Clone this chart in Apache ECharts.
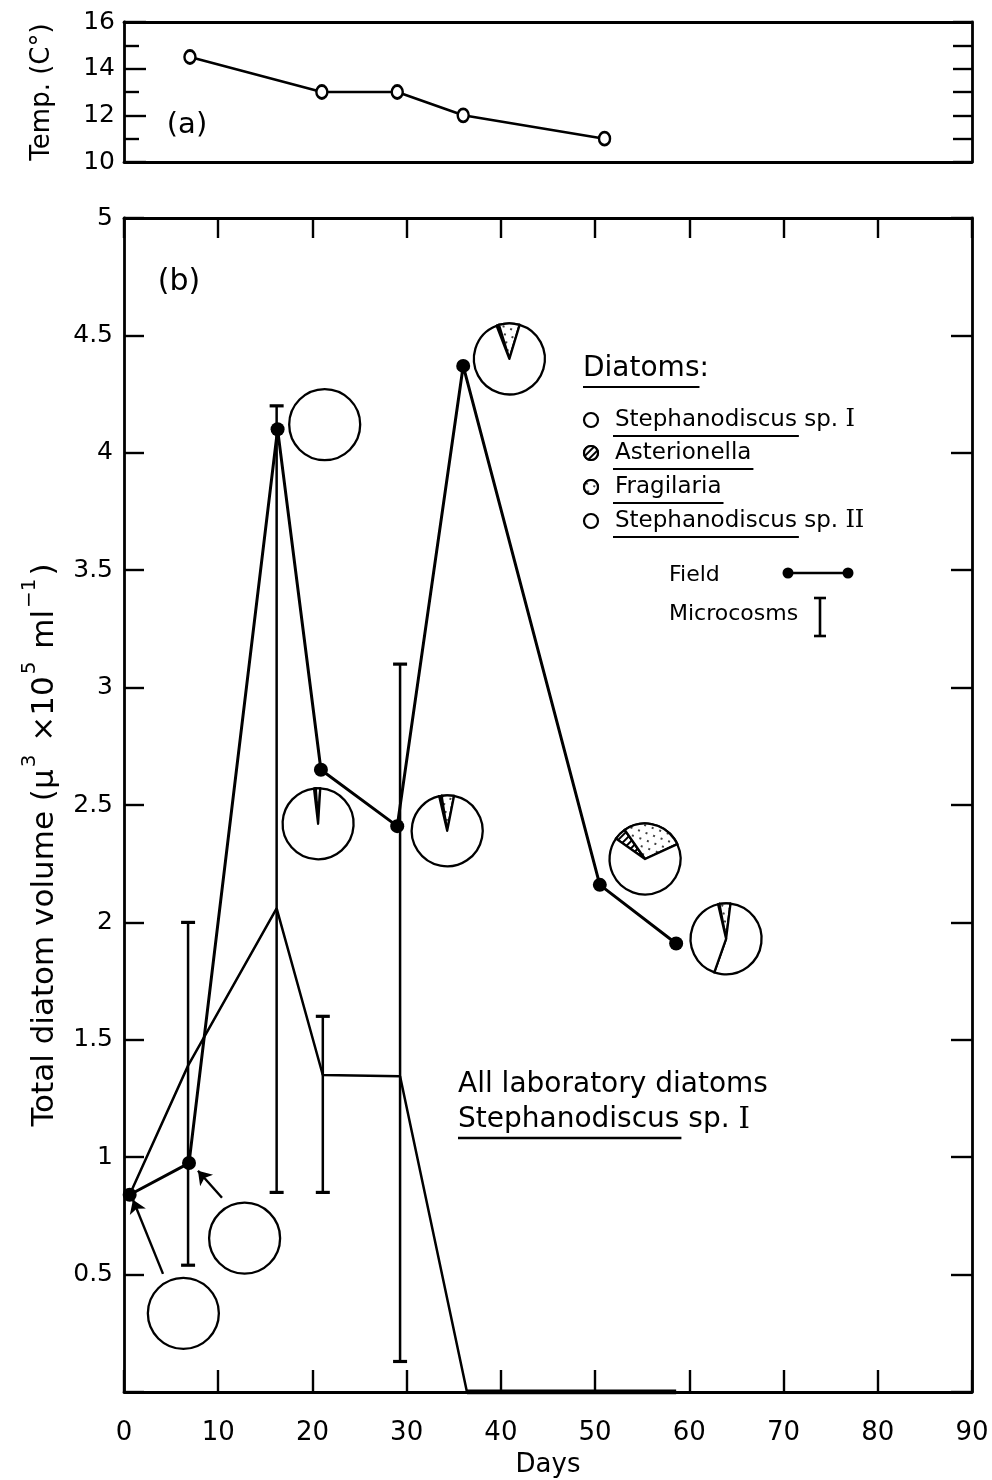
<!DOCTYPE html>
<html><head><meta charset="utf-8">
<script src="https://cdn.jsdelivr.net/npm/echarts@6/dist/echarts.min.js"></script>
<style>html,body{margin:0;padding:0;background:#fff}#c{width:992px;height:1480px}</style>
</head><body><div id="c"></div>
<script>
// ---- data ----
const tempDays = [7, 21, 29, 36, 51];
const tempVals = [14.5, 13, 13, 12, 11];

const fieldDays = [0.6, 6.9, 16.3, 20.9, 29.0, 36.0, 50.5, 58.6];
const fieldVals = [0.84, 0.975, 4.10, 2.65, 2.41, 4.37, 2.16, 1.91];

const microDays = [0.6, 6.8, 16.2, 21.1, 29.3, 36.4, 58.6];
const microVals = [0.84, 1.39, 2.06, 1.35, 1.345, 0, 0];

const errDays = [6.8, 16.2, 21.1, 29.3];
const errLow  = [0.54, 0.85, 0.85, 0.13];
const errHigh = [2.0, 4.2, 1.6, 3.1];

// pie charts of composition (% of volume), placed at (day, volume)
const pieDays   = [6.3, 12.8, 21.3, 20.6, 34.3, 40.9, 55.3, 63.9];
const pieVols   = [0.335, 0.655, 4.12, 2.42, 2.39, 4.40, 2.27, 1.93];
const pieAster  = [0, 0, 0, 0.8, 1.1, 1.1, 5.6, 0.6];
const pieFrag   = [0, 0, 0, 2.0, 5.6, 9.4, 27.8, 5.0];
const pieSteph1 = [100, 100, 100, 97.2, 93.3, 89.5, 66.6, 53.4];
const pieSteph2 = [0, 0, 0, 0, 0, 0, 0, 41.0];
const pieStart  = [90, 90, 90, 96.6, 103, 111, 145, 103];

// arrows pointing at the first two field samples
const arrowFromDay = [4.14, 10.4];
const arrowFromVol = [0.503, 0.827];
const arrowToDay   = [0.95, 7.85];
const arrowToVol   = [0.819, 0.942];

const xTickVals = [0, 10, 20, 30, 40, 50, 60, 70, 80, 90];
const tempTickLabels = ['10', '12', '14', '16'];
const volTickLabels = ['0.5', '1', '1.5', '2', '2.5', '3', '3.5', '4', '4.5', '5'];

// ---- styling ----
const FF = '"DejaVu Sans", sans-serif';
const BLACK = '#000';
const hatch = {symbol: 'rect', symbolSize: 1, dashArrayX: [1, 0], dashArrayY: [2, 2.6], rotation: -Math.PI / 4, color: BLACK, backgroundColor: '#fff'};
const stipple = {symbol: 'circle', symbolSize: 1, dashArrayX: [[2, 6], [0, 4, 2, 2]], dashArrayY: [2, 5], rotation: 0.35, color: BLACK, backgroundColor: '#fff'};

const chart = echarts.init(document.getElementById('c'), null, {renderer: 'canvas'});

const axLine = {show: true, onZero: false, lineStyle: {color: BLACK, width: 2.8}};
function tickStyle(len) { return {show: true, inside: true, length: len, lineStyle: {color: BLACK, width: 2.4}}; }

const measureCtx = document.createElement('canvas').getContext('2d');
function tw(text, size, weight) { measureCtx.font = (weight || 'normal') + ' ' + size + 'px "DejaVu Sans"'; return measureCtx.measureText(text).width; }
function txt(x, y, text, size, o) {
  o = o || {};
  const el = {type: 'text', x: x, y: y, z: 100, silent: true,
    style: {text: text, font: (o.weight || 'normal') + ' ' + size + 'px ' + FF, fill: BLACK,
      textAlign: o.align || 'left', textVerticalAlign: o.valign || 'middle'}};
  if (o.rich) el.style.rich = o.rich;
  if (o.rot) el.rotation = o.rot;
  return el;
}
function ln(x1, y1, x2, y2, w) { return {type: 'line', z: 100, silent: true, shape: {x1: x1, y1: y1, x2: x2, y2: y2}, style: {stroke: BLACK, lineWidth: w || 2}}; }
function dot(x, y, r) { return {type: 'circle', z: 101, silent: true, shape: {cx: x, cy: y, r: r}, style: {fill: BLACK}}; }

const sup = {fontSize: 20, fontFamily: 'DejaVu Sans', verticalAlign: 'top', padding: [0, 3, 0, 2]};
const graphics = [
  txt(42, 92, 'Temp. (C°)', 26, {align: 'center', rot: Math.PI / 2}),
  txt(187, 125, '(a)', 29, {align: 'center'}),
  txt(179, 282, '(b)', 30, {align: 'center'}),
  {type: 'text', x: 40, y: 845, rotation: Math.PI / 2, z: 100, silent: true,
    style: {text: '{t|Total diatom volume (μ}{s|3}{t| ×10}{s|5}{t| ml}{s|−1}{t|)}',
      textAlign: 'center', textVerticalAlign: 'middle', fill: BLACK,
      rich: {t: {fontSize: 31, fontFamily: 'DejaVu Sans', lineHeight: 40, verticalAlign: 'bottom'}, s: sup}}},
  // legend
  txt(583, 369, 'Diatoms:', 28),
  ln(583, 387, 583 + tw('Diatoms', 28), 387, 2.2),
];
const legendNames = ['Stephanodiscus', 'Asterionella', 'Fragilaria', 'Stephanodiscus'];
const legendSuffix = [' sp. {r|I}', '', '', ' sp. {r|II}'];
const legendY = [420, 453, 487, 521];
const LS = 23;
for (let i = 0; i < 4; i++) {
  graphics.push(txt(615, legendY[i], legendNames[i] + legendSuffix[i], LS,
    {rich: {r: {fontSize: LS + 1, fontFamily: 'DejaVu Serif'}}}));
  graphics.push(ln(613, legendY[i] + 16, 615 + tw(legendNames[i], LS) + 2, legendY[i] + 16, 2.2));
}
graphics.push(txt(669, 575, 'Field', 22));
graphics.push(ln(788, 573, 848, 573, 2.6), dot(788, 573, 5.5), dot(848, 573, 5.5));
graphics.push(txt(669, 614, 'Microcosms', 22));
graphics.push(ln(820, 598, 820, 636, 2.6), ln(814, 598, 826, 598, 2.6), ln(814, 636, 826, 636, 2.6));
graphics.push(txt(458, 1085, 'All laboratory diatoms', 28));
graphics.push(txt(458, 1120, 'Stephanodiscus sp. {r|I}', 28, {rich: {r: {fontSize: 29, fontFamily: 'DejaVu Serif'}}}));
graphics.push(ln(458, 1138, 458 + tw('Stephanodiscus', 28) + 2, 1138, 2.4));

const zip = (a, b) => a.map((v, i) => [v, b[i]]);

const option = {
  animation: false,
  backgroundColor: '#fff',
  textStyle: {fontFamily: FF, color: BLACK},
  grid: [
    {left: 124, right: 20, top: 22, height: 140, containLabel: false, outerBoundsMode: 'none'},
    {left: 124, right: 20, top: 218, height: 1174, containLabel: false, outerBoundsMode: 'none'}
  ],
  xAxis: [
    {gridIndex: 0, type: 'value', min: 0, max: 90, position: 'bottom', axisLine: axLine, axisTick: {show: false}, axisLabel: {show: false}, splitLine: {show: false}},
    {gridIndex: 0, type: 'value', min: 0, max: 90, position: 'top', axisLine: axLine, axisTick: {show: false}, axisLabel: {show: false}, splitLine: {show: false}},
    {gridIndex: 1, type: 'value', min: 0, max: 90, interval: 10, position: 'bottom', axisLine: axLine, axisTick: tickStyle(22),
      axisLabel: {show: true, margin: 28, fontSize: 26, color: BLACK, fontFamily: FF, showMinLabel: true, showMaxLabel: true,
        formatter: v => { const i = xTickVals.indexOf(v); return i >= 0 ? String(xTickVals[i]) : ''; }},
      splitLine: {show: false},
      name: 'Days', nameLocation: 'middle', nameGap: 60, nameTextStyle: {fontSize: 26, color: BLACK, fontFamily: FF}},
    {gridIndex: 1, type: 'value', min: 0, max: 90, interval: 10, position: 'top', axisLine: axLine, axisTick: tickStyle(20), axisLabel: {show: false}, splitLine: {show: false}}
  ],
  yAxis: [
    {gridIndex: 0, type: 'value', min: 10, max: 16, interval: 2, position: 'left', axisLine: axLine, axisTick: tickStyle(22),
      minorTick: {show: true, splitNumber: 2, length: 15, lineStyle: {color: BLACK, width: 2.4}},
      axisLabel: {show: true, margin: 9, fontSize: 25, color: BLACK, fontFamily: FF, showMinLabel: true, showMaxLabel: true,
        formatter: v => { const s = String(v); return tempTickLabels.indexOf(s) >= 0 ? s : ''; }},
      splitLine: {show: false}},
    {gridIndex: 0, type: 'value', min: 10, max: 16, interval: 1, position: 'right', axisLine: axLine, axisTick: tickStyle(19), axisLabel: {show: false}, splitLine: {show: false}},
    {gridIndex: 1, type: 'value', min: 0, max: 5, interval: 0.5, position: 'left', axisLine: axLine, axisTick: tickStyle(20),
      axisLabel: {show: true, margin: 11, fontSize: 25, color: BLACK, fontFamily: FF, showMaxLabel: true,
        formatter: v => { const s = String(v); return volTickLabels.indexOf(s) >= 0 ? s : ''; }},
      splitLine: {show: false}},
    {gridIndex: 1, type: 'value', min: 0, max: 5, interval: 0.5, position: 'right', axisLine: axLine, axisTick: tickStyle(21), axisLabel: {show: false}, splitLine: {show: false}}
  ],
  graphic: graphics,
  series: [
    {name: 'Temperature', type: 'line', xAxisIndex: 0, yAxisIndex: 0, data: zip(tempDays, tempVals),
      symbol: 'circle', symbolSize: [11, 13], showAllSymbol: true, z: 5,
      lineStyle: {color: BLACK, width: 2.6}, itemStyle: {color: '#fff', borderColor: BLACK, borderWidth: 2.6}},
    {name: 'Microcosms', type: 'line', xAxisIndex: 2, yAxisIndex: 2, data: zip(microDays, microVals),
      symbol: 'none', lineStyle: {color: BLACK, width: 2.5}, z: 3},
    {name: 'Microcosms zero', type: 'line', xAxisIndex: 2, yAxisIndex: 2,
      data: zip(microDays, microVals).filter(p => p[1] === 0),
      symbol: 'none', lineStyle: {color: BLACK, width: 5}, z: 3},
    {name: 'Microcosm range', type: 'custom', xAxisIndex: 2, yAxisIndex: 2, z: 3,
      data: errDays.map((d, i) => [d, errLow[i], errHigh[i]]),
      renderItem: function (params, api) {
        const x = api.value(0), lo = api.coord([x, api.value(1)]), hi = api.coord([x, api.value(2)]);
        const cw = 7, st = {stroke: BLACK, lineWidth: 2.5};
        return {type: 'group', children: [
          {type: 'line', shape: {x1: lo[0], y1: lo[1], x2: hi[0], y2: hi[1]}, style: st},
          {type: 'line', shape: {x1: lo[0] - cw, y1: lo[1], x2: lo[0] + cw, y2: lo[1]}, style: {stroke: BLACK, lineWidth: 3.2}},
          {type: 'line', shape: {x1: hi[0] - cw, y1: hi[1], x2: hi[0] + cw, y2: hi[1]}, style: {stroke: BLACK, lineWidth: 3.2}}
        ]};
      }},
    {name: 'Field', type: 'line', xAxisIndex: 2, yAxisIndex: 2, data: zip(fieldDays, fieldVals),
      symbol: 'circle', symbolSize: 14, showAllSymbol: true, z: 6,
      lineStyle: {color: BLACK, width: 3}, itemStyle: {color: BLACK}},
    {name: 'Arrows', type: 'lines', coordinateSystem: 'cartesian2d', xAxisIndex: 2, yAxisIndex: 2, z: 6,
      symbol: ['none', 'arrow'], symbolSize: 13, silent: true,
      lineStyle: {color: BLACK, width: 2.4, opacity: 1, curveness: 0},
      data: arrowFromDay.map((d, i) => ({coords: [[d, arrowFromVol[i]], [arrowToDay[i], arrowToVol[i]]]}))}
  ]
};

chart.setOption(option);

function pieSlices(i) {
  const parts = [
    {value: pieAster[i], decal: hatch},
    {value: pieFrag[i], decal: stipple},
    {value: pieSteph1[i], decal: null},
    {value: pieSteph2[i], decal: null}
  ].filter(p => p.value > 0);
  return parts.map(p => {
    const it = {value: p.value, itemStyle: {color: '#fff'}};
    if (p.decal) it.itemStyle.decal = p.decal;
    return it;
  });
}
function pieSeries(center, r, data, start) {
  return {type: 'pie', center: center, radius: r, startAngle: start, clockwise: true, silent: true, z: 10,
    label: {show: false}, labelLine: {show: false}, emphasis: {disabled: true}, minAngle: 0, avoidLabelOverlap: false,
    itemStyle: {borderColor: BLACK, borderWidth: 2.3}, data: data};
}

for (let i = 0; i < pieDays.length; i++) {
  const c = chart.convertToPixel({gridIndex: 1}, [pieDays[i], pieVols[i]]);
  option.series.push(pieSeries(c, 35.5, pieSlices(i), pieStart[i]));
}
// legend symbols
const legendDecals = [null, hatch, stipple, null];
for (let i = 0; i < 4; i++) {
  const d = {value: 1, itemStyle: {color: '#fff'}};
  if (legendDecals[i]) d.itemStyle.decal = legendDecals[i];
  const s = pieSeries([591, legendY[i]], 7, [d], 90);
  s.itemStyle.borderWidth = 2.2;
  option.series.push(s);
}
chart.setOption(option);
</script>
</body></html>
